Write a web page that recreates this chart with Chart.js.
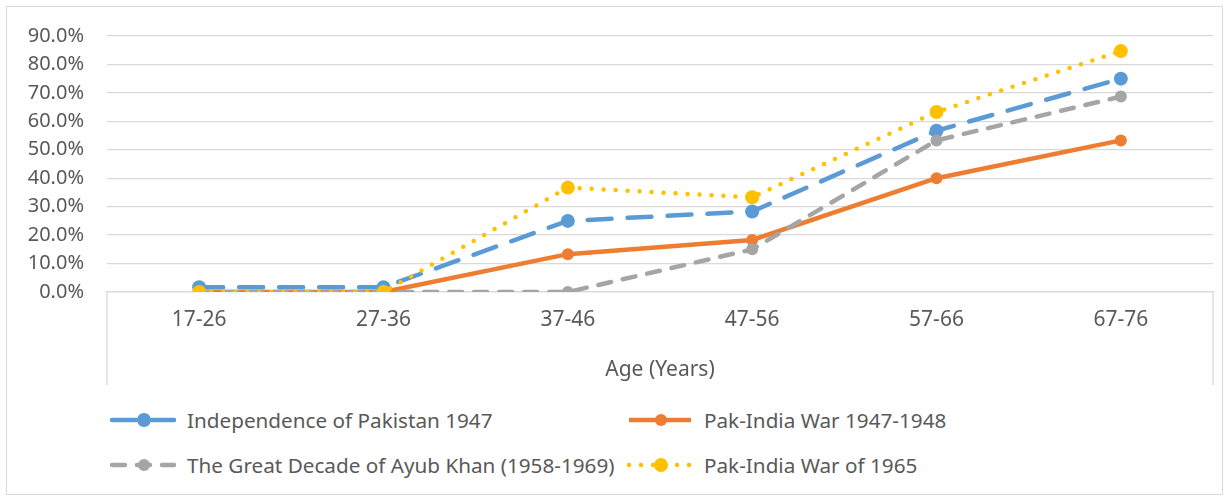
<!DOCTYPE html>
<html>
<head>
<meta charset="utf-8">
<script src="https://cdn.jsdelivr.net/npm/chart.js@4.4.0/dist/chart.umd.min.js"></script>
<style>
  body { margin: 0; background: #fff; font-family: "Noto Sans", sans-serif; }
  #wrap { position: relative; width: 1229px; height: 498px; }
  #frame { position: absolute; left: 6px; top: 6px; width: 1215px; height: 487px; border: 1px solid #d9d9d9; }
  #chart { position: absolute; left: 0; top: 0; }
  .leg { position: absolute; display: flex; align-items: center; height: 30px; color: #595959; font-size: 20.7px; white-space: nowrap; }
  .leg canvas { margin-right: 11px; }
</style>
</head>
<body>
<div id="wrap">
  <div id="frame"></div>
  <canvas id="chart" width="1229" height="400"></canvas>
  <div id="legend"></div>
</div>
<script>
// Age groups and share of respondents per event
const categories = ['17-26', '27-36', '37-46', '47-56', '57-66', '67-76'];
const independence1947 = [0.017, 0.017, 0.25, 0.283, 0.567, 0.75];
const pakIndiaWar1947 = [0, 0, 0.133, 0.183, 0.40, 0.533];
const ayubKhanDecade = [0, 0, 0, 0.15, 0.533, 0.687];
const pakIndiaWar1965 = [0, 0, 0.367, 0.333, 0.633, 0.847];
const seriesNames = [
    'Independence of Pakistan 1947',
    'Pak-India War 1947-1948',
    'The Great Decade of Ayub Khan (1958-1969)',
    'Pak-India War of 1965'
];
const yMax = 0.9;
const yStep = 0.1;

const textColor = '#595959';
const gridColor = '#d9d9d9';

// vertical lines at both ends of the category axis, like Excel draws them
const edgeLines = {
    id: 'edgeLines',
    afterDraw(chart) {
        const { ctx, chartArea } = chart;
        ctx.save();
        ctx.strokeStyle = gridColor;
        ctx.lineWidth = 1.3;
        ctx.beginPath();
        [chartArea.left, chartArea.right].forEach(x => {
            ctx.moveTo(x, chartArea.bottom);
            ctx.lineTo(x, chartArea.bottom + 93);
        });
        ctx.stroke();
        ctx.restore();
    }
};

const datasets = [{
    label: seriesNames[0],
    data: independence1947,
    borderColor: '#5b9bd5',
    backgroundColor: '#5b9bd5',
    borderWidth: 4.5,
    borderDash: [24, 16],
    borderCapStyle: 'round',
    pointRadius: 7,
    order: 3
}, {
    label: seriesNames[1],
    data: pakIndiaWar1947,
    borderColor: '#ed7d31',
    backgroundColor: '#ed7d31',
    borderWidth: 4.5,
    borderDash: [],
    borderCapStyle: 'butt',
    pointRadius: 6,
    order: 2
}, {
    label: seriesNames[2],
    data: ayubKhanDecade,
    borderColor: '#a5a5a5',
    backgroundColor: '#a5a5a5',
    borderWidth: 4.5,
    borderDash: [13, 12],
    borderCapStyle: 'round',
    pointRadius: 6,
    order: 1
}, {
    label: seriesNames[3],
    data: pakIndiaWar1965,
    borderColor: '#ffc000',
    backgroundColor: '#ffc000',
    borderWidth: 4.5,
    borderDash: [0, 12],
    borderCapStyle: 'round',
    pointRadius: 7,
    order: 0
}];

datasets.forEach(ds => {
    ds.pointBackgroundColor = ds.borderColor;
    ds.pointBorderColor = ds.borderColor;
    ds.pointBorderWidth = 0;
    ds.tension = 0;
    ds.fill = false;
});

const chart = new Chart(document.getElementById('chart'), {
    type: 'line',
    data: { labels: categories, datasets: datasets },
    options: {
        responsive: false,
        animation: false,
        devicePixelRatio: 1,
        layout: { padding: { top: 36, right: 16, left: 0, bottom: 0 } },
        plugins: {
            legend: { display: false },
            tooltip: { enabled: false }
        },
        scales: {
            x: {
                offset: true,
                grid: { display: false },
                border: { display: true, color: gridColor, width: 1.3 },
                ticks: {
                    color: textColor,
                    font: { family: 'Noto Sans', size: 21 },
                    padding: 7
                },
                title: {
                    display: true,
                    text: 'Age (Years)',
                    color: textColor,
                    font: { family: 'Noto Sans', size: 21 },
                    padding: { top: 0, bottom: 17 }
                },
                afterFit(scale) { scale.height = 108; }
            },
            y: {
                min: 0,
                max: yMax,
                border: { display: false },
                grid: { color: gridColor, lineWidth: 1.3, drawTicks: false },
                ticks: {
                    stepSize: yStep,
                    color: textColor,
                    font: { family: 'Noto Sans', size: 20 },
                    padding: 23,
                    callback: v => (v * 100).toFixed(1) + '%'
                },
                afterFit(scale) { scale.width = 107; }
            }
        }
    },
    plugins: [edgeLines]
});

// legend in two columns, built from the chart's datasets
const legendSpots = [[108, 405], [625, 405], [108, 450], [625, 450]];
const legendBox = document.getElementById('legend');
chart.data.datasets.forEach((ds, i) => {
    const item = document.createElement('div');
    item.className = 'leg';
    item.style.left = legendSpots[i][0] + 'px';
    item.style.top = legendSpots[i][1] + 'px';
    const sw = document.createElement('canvas');
    sw.width = 68;
    sw.height = 22;
    const c = sw.getContext('2d');
    c.strokeStyle = ds.borderColor;
    c.lineWidth = ds.borderWidth;
    c.lineCap = ds.borderCapStyle;
    c.setLineDash(ds.borderDash);
    c.beginPath();
    c.moveTo(4, 11);
    c.lineTo(66, 11);
    c.stroke();
    c.setLineDash([]);
    c.fillStyle = ds.borderColor;
    c.beginPath();
    c.arc(36, 11, ds.pointRadius, 0, Math.PI * 2);
    c.fill();
    const label = document.createElement('span');
    label.textContent = ds.label;
    item.appendChild(sw);
    item.appendChild(label);
    legendBox.appendChild(item);
});
</script>
</body>
</html>
